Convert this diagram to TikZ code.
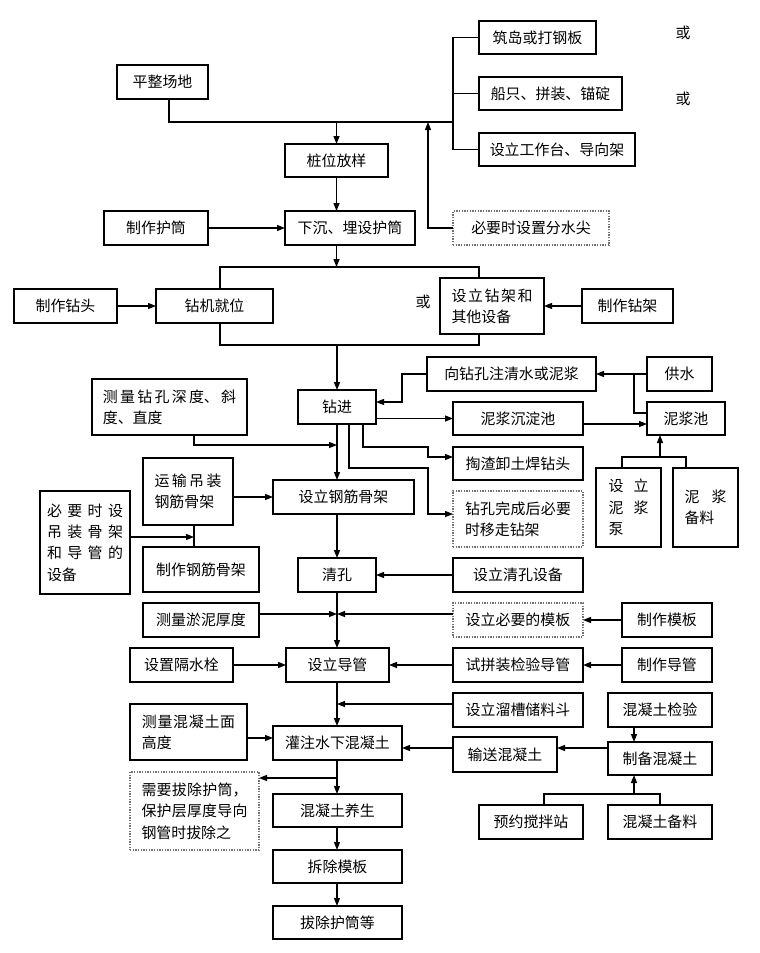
\documentclass[tikz,border=0pt]{standalone}
\usepackage{fontspec}
\usetikzlibrary{arrows.meta}
\newfontfamily\cjk{Noto Sans CJK SC}
\XeTeXlinebreaklocale "zh"
\XeTeXlinebreakskip=0pt plus 1pt
\tikzset{
  box/.style={draw, line width=1.1pt, inner sep=0pt, outer sep=0pt, font=\cjk\fontsize{11.2pt}{16pt}\selectfont},
  dbox/.style={box, draw=black!55, line width=0.8pt, dash pattern=on 1pt off 1pt},
  mbox/.style={box, align=justify, text width=#1},
  mdbox/.style={dbox, align=justify, text width=#1},
  arr/.style={-{Triangle[length=6pt,width=4.5pt]}},
  ln/.style={line width=1pt},
  huo/.style={font=\cjk\fontsize{11.2pt}{16pt}\selectfont, inner sep=0pt},
}
\newcommand\bx[7]{\node[#1, minimum width={(#5-#3)*0.75pt}, minimum height={(#6-#4)*0.75pt}] (#2) at ({(#3+#5)/2},{(#4+#6)/2}) {#7};}
\begin{document}
\begin{tikzpicture}[x=0.75pt,y=-0.75pt]
\fill[white] (0,0) rectangle (760,953);
\useasboundingbox (0,0) rectangle (760,953);
% boxes
\bx{box}{pzcd}{117}{65}{208}{99}{平整场地}
\bx{box}{zwfy}{285}{144}{388}{177}{桩位放样}
\bx{box}{zd}{479}{21}{596}{54}{筑岛或打钢板}
\bx{box}{cz}{479}{77}{622}{110}{船只、拼装、锚碇}
\bx{box}{sl}{479}{133}{635}{166}{设立工作台、导向架}
\bx{dbox}{fsj}{453}{211}{609}{245}{必要时设置分水尖}
\bx{box}{zzhut}{104}{211}{208}{245}{制作护筒}
\bx{box}{xc}{285}{211}{415}{245}{下沉、埋设护筒}
\bx{box}{zzzt}{14}{289}{117}{323}{制作钻头}
\bx{box}{zjjw}{156}{289}{273}{323}{钻机就位}
\bx{mbox=60.75pt}{slzj}{440}{278}{544}{334}{设立钻架和\linebreak 其他设备}
\bx{box}{zzzj}{582}{289}{673}{323}{制作钻架}
\bx{box}{zj}{298}{390}{376}{424}{钻进}
\bx{mbox=100pt}{cl}{92}{379}{247}{435}{测量钻孔深度、斜\linebreak 度、直度}
\bx{box}{xzk}{427}{357}{596}{391}{向钻孔注清水或泥浆}
\bx{box}{gs}{647}{357}{712}{391}{供水}
\bx{box}{njcd}{453}{402}{583}{435}{泥浆沉淀池}
\bx{box}{njc}{647}{402}{725}{435}{泥浆池}
\bx{box}{tz}{453}{447}{583}{480}{掏渣卸土焊钻头}
\bx{mdbox=79.5pt}{wc}{453}{491}{583}{547}{钻孔完成后必要\linebreak 时移走钻架}
\bx{mbox=30pt}{slb}{596}{468}{661}{547}{设立\linebreak 泥浆\linebreak 泵}
\bx{mbox=31.5pt}{njbl}{673}{468}{738}{547}{泥浆\linebreak 备料\hfill\null}
\bx{mbox=50.25pt}{ys}{143}{458}{233}{525}{运输吊装\linebreak 钢筋骨架}
\bx{box}{gj}{273}{480}{414}{514}{设立钢筋骨架}
\bx{mbox=57pt}{bysb}{40}{491}{130}{594}{必要时设\linebreak 吊装骨架\linebreak 和导管的\linebreak 设备}
\bx{box}{zzgj}{143}{547}{259}{592}{制作钢筋骨架}
\bx{box}{qk}{298}{558}{376}{592}{清孔}
\bx{box}{qksb}{453}{558}{583}{592}{设立清孔设备}
\bx{box}{yn}{143}{603}{259}{637}{测量淤泥厚度}
\bx{dbox}{mb}{453}{603}{583}{637}{设立必要的模板}
\bx{box}{zzmb}{622}{603}{712}{637}{制作模板}
\bx{box}{gsz}{130}{648}{233}{682}{设置隔水栓}
\bx{box}{dg}{286}{648}{389}{682}{设立导管}
\bx{box}{spz}{453}{648}{583}{682}{试拼装检验导管}
\bx{box}{zzdg}{622}{648}{712}{682}{制作导管}
\bx{box}{lc}{453}{693}{583}{727}{设立溜槽储料斗}
\bx{box}{jy}{608}{693}{712}{727}{混凝土检验}
\bx{mbox=70pt}{clh}{130}{704}{247}{760}{测量混凝土面\linebreak 高度}
\bx{box}{gz}{273}{726}{402}{760}{灌注水下混凝土}
\bx{box}{ss}{453}{737}{557}{772}{输送混凝土}
\bx{box}{zb}{608}{742}{712}{775}{制备混凝土}
\bx{mdbox=79.5pt}{bc}{130}{772}{259}{850}{需要拔除护筒，\linebreak 保护层厚度导向\linebreak 钢管时拔除之}
\bx{box}{ys2}{273}{794}{402}{827}{混凝土养生}
\bx{box}{cc}{273}{850}{402}{883}{拆除模板}
\bx{box}{bchu}{273}{906}{402}{939}{拔除护筒等}
\bx{box}{yy}{479}{805}{583}{839}{预约搅拌站}
\bx{box}{blh}{608}{805}{712}{839}{混凝土备料}
% 或
\node[huo] (h1) at (683,33) {或};
\node[huo] (h2) at (683,99) {或};
\node[huo] (h3) at (423,302) {或};
% coordinates
\coordinate (p1) at (169,122);
\coordinate (j1) at (453,122);
\coordinate (fa) at (428,122);
\coordinate (bl) at (220,267);
\coordinate (br) at (479,267);
\coordinate (bbl) at (220,345);
\coordinate (bbr) at (479,345);
\coordinate (c1) at (194,445);
\coordinate (k1) at (349,468);
\coordinate (k2) at (428,468);
\coordinate (k3) at (363,447);
\coordinate (k4) at (428,447);
\coordinate (k5) at (453,457);
\coordinate (k6) at (453,514);
\coordinate (q1) at (402,374);
\coordinate (q2) at (402,402);
\coordinate (q3) at (634,413);
\coordinate (q4) at (600,424);
\coordinate (m1) at (660,457);
\coordinate (m2) at (622,457);
\coordinate (m3) at (686,457);
\coordinate (v1) at (194,537);
\coordinate (w1) at (337,614);
\coordinate (w2) at (337,704);
\coordinate (u1) at (634,700);
\coordinate (u2) at (500,748);
\coordinate (u3) at (544,794);
\coordinate (u4) at (660,794);
\coordinate (u5) at (634,794);
\coordinate (t1) at (200,738);
\coordinate (t2) at (337,778);
% connectors
\begin{scope}[ln]
\draw (pzcd.south -| p1) -- (p1) -- (j1);
\draw (zd.west) -| (j1 |- sl.west) -- (sl.west);
\draw (cz.west) -- (cz.west -| j1);
\draw[arr] (zwfy.north |- j1) -- (zwfy.north);
\draw[arr] (fsj.west) -| (fa);
\draw[arr] (zwfy.south) -- (zwfy.south |- xc.north);
\draw[arr] (zzhut.east) -- (xc.west);
\draw[arr] (zwfy.south |- xc.south) -- (zwfy.south |- bl);
\draw (zjjw.north -| bl) -- (bl) -- (br) -- (slzj.north -| br);
\draw (zjjw.south -| bl) -- (bbl) -- (bbr) -- (slzj.south -| br);
\draw[arr] (zzzt.east) -- (zjjw.west);
\draw[arr] (zzzj.west) -- (slzj.east |- zzzj.west);
\draw[arr] (zj.north |- bbl) -- (zj.north);
\draw[arr] (cl.south -| c1) -- (c1) -- (zj.south |- c1);
\draw[arr] (zj.south) -- (zj.south |- gj.north);
\draw[arr] (zj.south -| k1) -- (k1) -- (k2) |- (k6);
\draw[arr] (zj.south -| k3) -- (k3) -- (k4) |- (k5);
\draw[arr] (xzk.west) -- (q1) -- (q2) -- (zj.east |- q2);
\draw[arr] (zj.east |- njcd.west) -- (njcd.west);
\draw[arr] (gs.west) -- (xzk.east);
\draw (gs.west -| q3) -- (q3) -- (njc.west |- q3);
\draw[arr] (njcd.east |- q4) -- (njc.west |- q4);
\draw (slb.north -| m2) -- (m2) -- (m3) -- (njbl.north -| m3);
\draw[arr] (m1) -- (njc.south -| m1);
\draw[arr] (ys.east |- gj.west) -- (gj.west);
\draw (ys.south -| v1) -- (zzgj.north -| v1);
\draw[arr] (bysb.east |- v1) -- (v1);
\draw[arr] (gj.south -| zj.south) -- (zj.south |- qk.north);
\draw[arr] (qksb.west) -- (qk.east);
\draw[arr] (qk.south) -- (qk.south |- dg.north);
\draw[arr] (yn.east |- w1) -- (w1);
\draw[arr] (mb.west |- w1) -- (w1);
\draw[arr] (zzmb.west) -- (mb.east);
\draw[arr] (gsz.east) -- (dg.west);
\draw[arr] (spz.west) -- (dg.east);
\draw[arr] (zzdg.west) -- (spz.east);
\draw[arr] (qk.south |- dg.south) -- (qk.south |- gz.north);
\draw[arr] (lc.west |- w2) -- (w2);
\draw[arr] (jy.south -| u1) -- (zb.north -| u1);
\draw[arr] (zb.west |- u2) -- (ss.east |- u2);
\draw[arr] (ss.west |- u2) -- (gz.east |- u2);
\draw (yy.north -| u3) -- (u3) -- (u4) -- (blh.north -| u4);
\draw[arr] (u5) -- (zb.south -| u5);
\draw[arr] (clh.east |- t1) -- (gz.west |- t1);
\draw[arr] (qk.south |- gz.south) -- (qk.south |- ys2.north);
\draw[arr] (t2) -- (bc.east |- t2);
\draw[arr] (qk.south |- ys2.south) -- (qk.south |- cc.north);
\draw[arr] (qk.south |- cc.south) -- (qk.south |- bchu.north);
\end{scope}
\end{tikzpicture}
\end{document}
